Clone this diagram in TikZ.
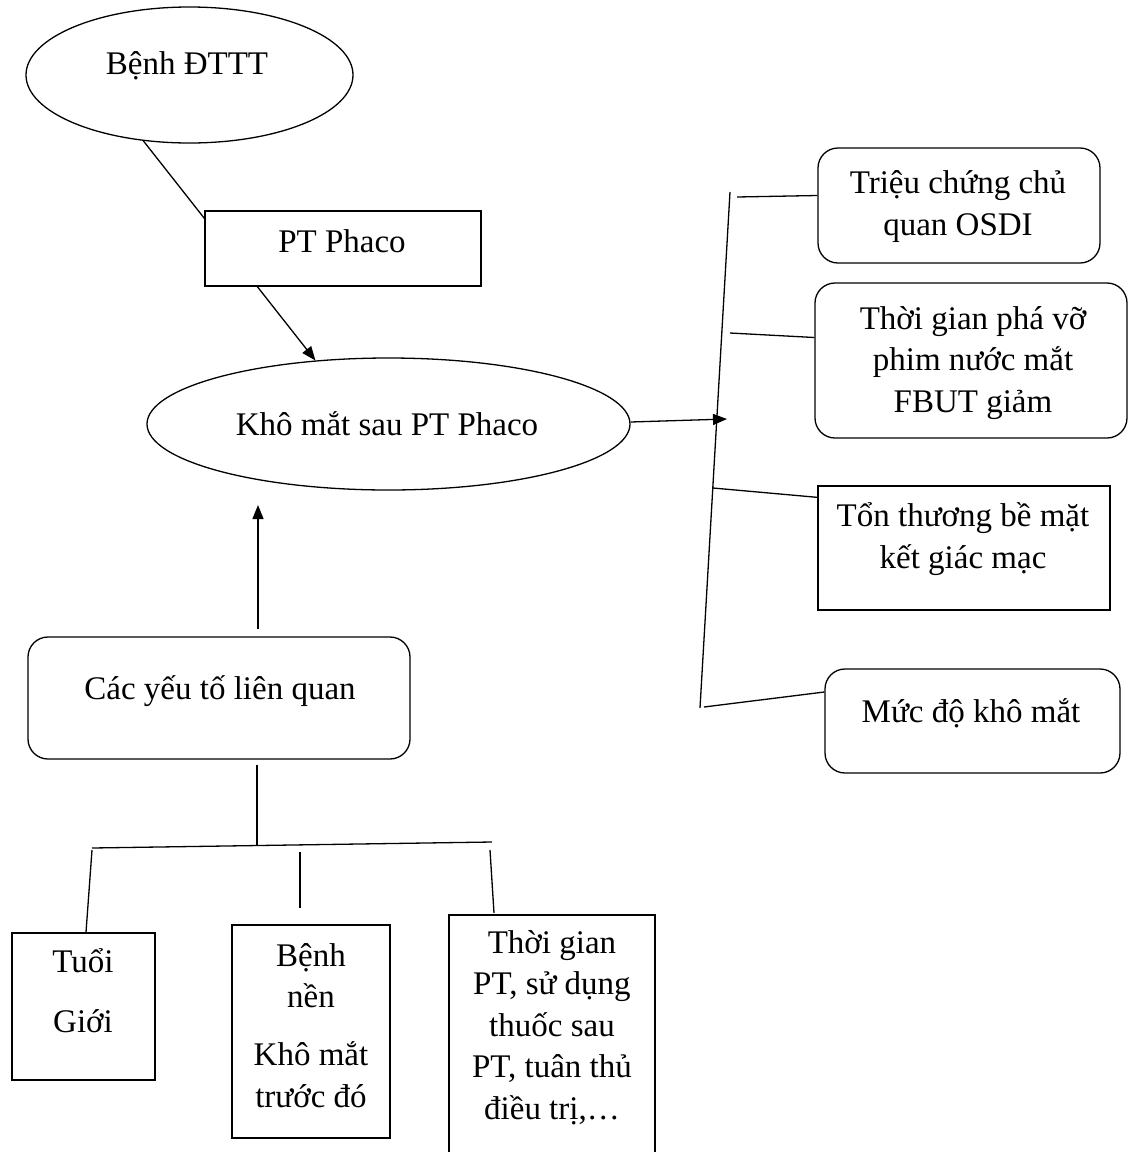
\documentclass[tikz,border=0pt]{standalone}
\usepackage{fontspec}
\setmainfont{Liberation Serif}
\usetikzlibrary{shapes.geometric,arrows.meta,calc}
\begin{document}
\begin{tikzpicture}[x=1pt,y=-1pt,
  every node/.style={font=\fontsize{33}{41.5}\selectfont},
  ln/.style={line width=1.3pt},
  arr/.style={ln,-{Triangle[length=14pt,width=11pt]}},
  oval/.style={draw,ellipse,ln,inner sep=0pt},
  sbox/.style={draw,rectangle,ln,inner sep=0pt},
  rbox/.style={sbox,rounded corners=20pt},
  txt/.style={anchor=base,align=center,inner sep=0pt}]
\clip (0,0) rectangle (1129,1152);
\fill[white] (0,0) rectangle (1129,1152);

% shapes
\node[oval,minimum width=327pt,minimum height=136pt] (e1) at (189.5,75) {};
\node[oval,minimum width=483pt,minimum height=132pt] (e2) at (388.5,424) {};
\node[sbox,minimum width=276pt,minimum height=75pt] (pt) at (343,248.5) {};
\node[rbox,minimum width=282pt,minimum height=115pt] (A) at (959,205.5) {};
\node[rbox,minimum width=312pt,minimum height=155pt] (B) at (971,360.5) {};
\node[sbox,minimum width=292pt,minimum height=124pt] (C) at (964,548) {};
\node[rbox,minimum width=295pt,minimum height=104pt] (D) at (972.5,721) {};
\node[rbox,minimum width=382pt,minimum height=122pt] (F) at (219,698) {};
\node[sbox,minimum width=143pt,minimum height=147pt] (T1) at (83.5,1006.5) {};
\node[sbox,minimum width=158pt,minimum height=213pt] (T2) at (311,1031.5) {};
\node[sbox,minimum width=206pt,minimum height=250pt] (T3) at (552,1040) {};

% texts (base = baseline of last line)
\node[txt] (te1) at (187,74) {Bệnh ĐTTT};
\node[txt] (tpt) at (342,252) {PT Phaco};
\node[txt] (te2) at (387,435) {Khô mắt sau PT Phaco};
\node[txt] (tA) at (958,235) {Triệu chứng chủ\\quan OSDI};
\node[txt] (tB) at (973,412) {Thời gian phá vỡ\\phim nước mắt\\FBUT giảm};
\node[txt] (tC) at (963,568) {Tổn thương bề mặt\\kết giác mạc};
\node[txt] (tD) at (971,722) {Mức độ khô mắt};
\node[txt] (tF) at (220,699) {Các yếu tố liên quan};
\node[txt] (tT1) at (83,1032) {Tuổi\\[18.5pt]Giới};
\node[txt] (tT2) at (311,1107) {Bệnh\\nền\\[16.5pt]Khô mắt\\trước đó};
\node[txt] (tT3) at (552,1119) {Thời gian\\PT, sử dụng\\thuốc sau\\PT, tuân thủ\\điều trị,…};

% coordinates
\coordinate (br) at (727,419);
\coordinate (vt) at (730,192);
\coordinate (vb) at (700,708);
\coordinate (c1) at (737,197);
\coordinate (c2) at (730,333);
\coordinate (c3) at (713,488);
\coordinate (c4) at (704,707);
\coordinate (upend) at (258,505);
\coordinate (hub) at (257,845);
\coordinate (hl) at (92,848);
\coordinate (hr) at (492,842);
\coordinate (d1) at (92,850);
\coordinate (d2a) at (300,852);
\coordinate (d2b) at (300,908);
\coordinate (d3a) at (490,850);
\coordinate (d3b) at (494,913);

% connectors
\draw[ln] (e1.235) -- ($(pt.north west)+(0,8)$);
\draw[arr] ($(pt.south west)+(53,0)$) -- (e2.139);
\draw[arr] ($(e2.east)+(0,-2)$) -- (br);
\draw[ln] (vt) -- (vb);
\draw[ln] (c1) -- ($(A.west)+(0,-10)$);
\draw[ln] (c2) -- ($(B.west)+(0,-23)$);
\draw[ln] (c3) -- ($(C.north west)+(0,12)$);
\draw[ln] (c4) -- ($(D.west)+(0,-29)$);
\draw[arr] ($(F.north)+(39,-7)$) -- (upend);
\draw[ln] ($(F.south)+(38,5)$) -- (hub);
\draw[ln] (hl) -- (hr);
\draw[ln] (d1) -- ($(T1.north)+(2.5,0)$);
\draw[ln] (d2a) -- (d2b);
\draw[ln] (d3a) -- (d3b);
\end{tikzpicture}
\end{document}
